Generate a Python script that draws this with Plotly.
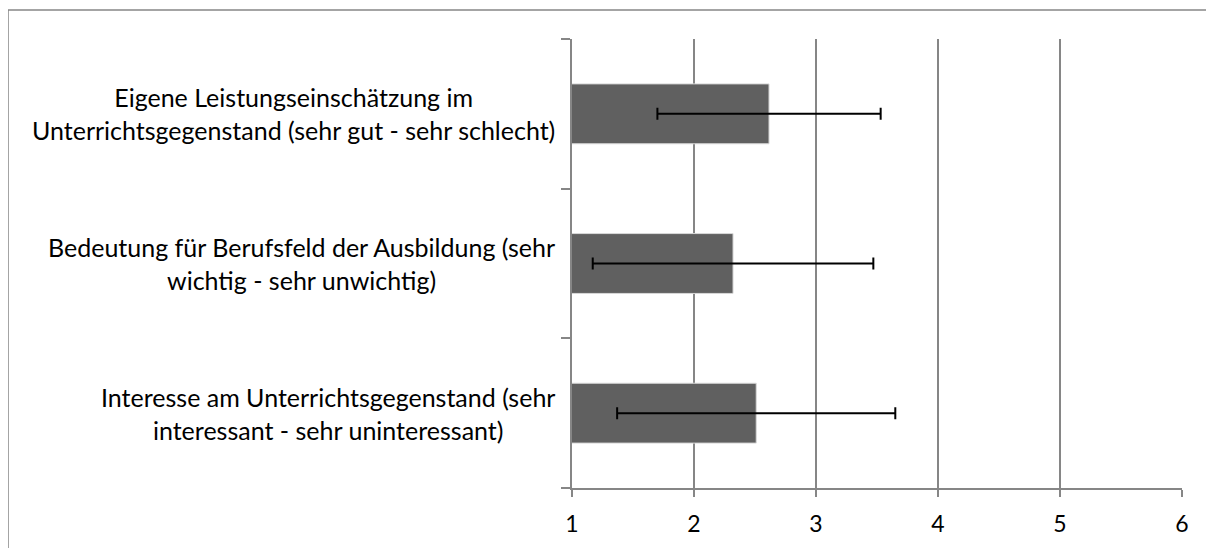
import plotly.graph_objects as go

categories = [
    "Interesse am Unterrichtsgegenstand (sehr<br>interessant - sehr uninteressant)",
    "Bedeutung für Berufsfeld der Ausbildung (sehr<br>wichtig - sehr unwichtig)",
    "Eigene Leistungseinschätzung im<br>Unterrichtsgegenstand (sehr gut - sehr schlecht)",
]
means = [2.51, 2.32, 2.615]
sd = [1.14, 1.15, 0.915]
x_ticks = [1, 2, 3, 4, 5, 6]

# page offset of the plot (default body margin of 8px)
OFF = 8
W, H = 1214 - OFF, 548 - OFF
L, R, T, B = 572 - OFF, 1182 - OFF, 39 - OFF, 488 - OFF

fig = go.Figure()
fig.add_trace(go.Bar(
    y=categories, x=means, orientation="h", base=0,
    marker=dict(color="#606060", line=dict(color="#d9d9d9", width=1)),
    width=0.4,
    error_x=dict(type="data", array=sd, symmetric=True, color="black",
                 thickness=2, width=6),
    showlegend=False,
))

gray = "#868686"
FONT = "Lato, Carlito, sans-serif"
fig.update_layout(
    width=W, height=H,
    margin=dict(l=L, r=W - R, t=T, b=H - B),
    paper_bgcolor="white", plot_bgcolor="white",
    font=dict(family=FONT, color="black"),
    xaxis=dict(range=[1, 6], tickvals=x_ticks, ticktext=[str(v) for v in x_ticks],
               showgrid=True, gridcolor=gray, gridwidth=1.5,
               showline=True, linecolor=gray, linewidth=1.5,
               ticks="outside", ticklen=7, tickcolor=gray, tickwidth=1.5,
               ticklabelstandoff=8,
               tickfont=dict(size=23), zeroline=False, fixedrange=True),
    yaxis=dict(categoryorder="array", categoryarray=categories,
               showline=True, linecolor=gray, linewidth=1.5,
               ticks="outside", tickson="boundaries", ticklen=9,
               tickcolor=gray, tickwidth=1.5, showticklabels=False,
               showgrid=False, fixedrange=True),
    bargap=0.6,
)

pw, ph = R - L, B - T
# category labels, centred per line like the original
for c in categories:
    fig.add_annotation(x=-15 / pw, xref="paper", y=c, yref="y",
                       text=c, showarrow=False, xanchor="right", yanchor="middle",
                       align="center", font=dict(family=FONT, size=25, color="black"))

fig.add_shape(type="rect", xref="paper", yref="paper",
              x0=(0 - L) / pw, x1=(1230 - L) / pw,
              y0=(B - 570) / ph, y1=(B - 2) / ph,
              line=dict(color=gray, width=1.5), layer="below")

fig.write_html("out.html")
